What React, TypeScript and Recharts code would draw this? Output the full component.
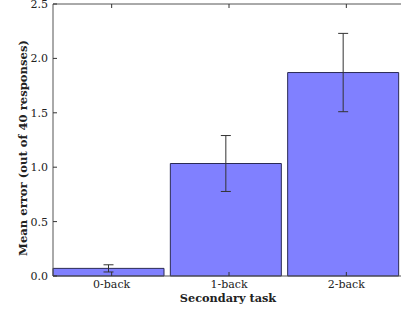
import { Bar, BarChart, ErrorBar, XAxis, YAxis } from 'recharts'

const categories = ['0-back', '1-back', '2-back']
const meanError = [0.07, 1.034, 1.87]
const stdError = [0.033, 0.257, 0.36]
const yTicks = [0, 0.5, 1.0, 1.5, 2.0, 2.5]

const data = categories.map((task, i) => ({ task, mean: meanError[i], err: stdError[i] }))

const FONT = '"DejaVu Serif", serif'
const INK = '#222'

function XTick({ x, y, payload }: any) {
  return (
    <g>
      <line x1={x + 3} x2={x + 3} y1={y} y2={y - 4} stroke="#333" strokeWidth={1} />
      <text x={x + 3} y={y + 12} textAnchor="middle" fontSize={11} fontFamily={FONT} fill={INK}>
        {payload.value}
      </text>
    </g>
  )
}

function TopTick({ x, y }: any) {
  return <line x1={x + 3} x2={x + 3} y1={y} y2={y + 4} stroke="#333" strokeWidth={1} />
}

function YTick({ x, y, payload }: any) {
  return (
    <g>
      <line x1={x + 5} x2={x + 9} y1={y} y2={y} stroke="#333" strokeWidth={1} />
      <text x={x} y={y + 4} textAnchor="end" fontSize={11} fontFamily={FONT} fill={INK}>
        {Number(payload.value).toFixed(1)}
      </text>
    </g>
  )
}

function YLabel() {
  return (
    <text
      x={23}
      y={148}
      transform="rotate(-90 23 148)"
      textAnchor="middle"
      dominantBaseline="central"
      fontSize={11.6}
      fontWeight="bold"
      fontFamily={FONT}
      fill={INK}
    >
      Mean error (out of 40 responses)
    </text>
  )
}

function XLabel() {
  return (
    <text x={228} y={302} textAnchor="middle" fontSize={11.3} fontWeight="bold" fontFamily={FONT} fill={INK}>
      Secondary task
    </text>
  )
}

export default function App() {
  return (
    <div style={{ position: 'fixed', left: 0, top: 0, width: 401, height: 313, background: '#fff' }}>
      <BarChart
        width={401}
        height={313}
        data={data}
        margin={{ top: 3, right: 0, left: 0, bottom: 0 }}
        barCategoryGap={3}
      >
        <XAxis
          xAxisId="top"
          orientation="top"
          dataKey="task"
          height={1}
          padding={{ left: -3, right: -1 }}
          axisLine={{ stroke: '#555', strokeWidth: 1 }}
          tickLine={false}
          tickSize={0}
          tickMargin={0}
          tick={<TopTick />}
          interval={0}
        />
        <XAxis
          dataKey="task"
          height={37}
          padding={{ left: -3, right: -1 }}
          axisLine={{ stroke: '#555', strokeWidth: 1 }}
          tickLine={false}
          tickSize={0}
          tickMargin={0}
          tick={<XTick />}
          interval={0}
          label={<XLabel />}
        />
        <YAxis
          domain={[0, 2.5]}
          ticks={yTicks}
          width={53}
          axisLine={{ stroke: '#555', strokeWidth: 1 }}
          tickLine={false}
          tickSize={0}
          tickMargin={5}
          tick={<YTick />}
          interval={0}
          label={<YLabel />}
        />
        <Bar dataKey="mean" fill="#8080ff" stroke="#2a2a55" strokeWidth={1} isAnimationActive={false}>
          <ErrorBar dataKey="err" width={5} stroke="#333" strokeWidth={1} direction="y" />
        </Bar>
      </BarChart>
    </div>
  )
}
